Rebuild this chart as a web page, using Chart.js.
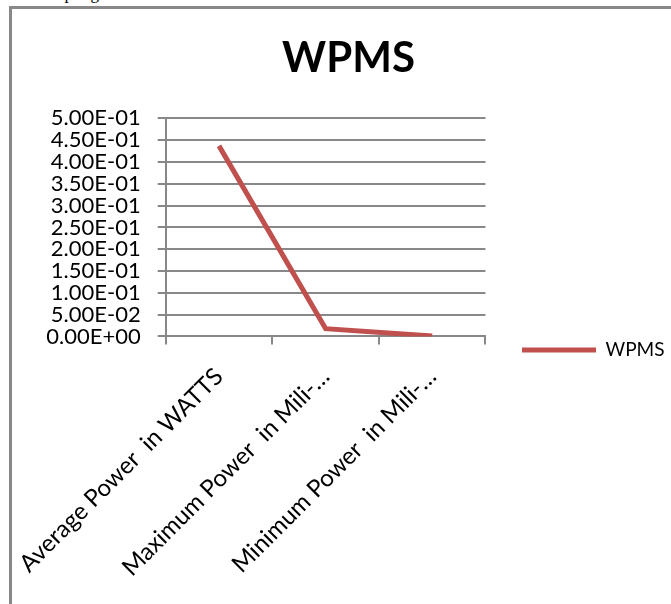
<!DOCTYPE html>
<html>
<head>
<meta charset="utf-8">
<script src="https://cdn.jsdelivr.net/npm/chart.js@4.4.1/dist/chart.umd.min.js"></script>
<style>
  html, body { margin: 0; padding: 0; background: #fff; overflow: hidden; }
  #note { position: absolute; left: 12px; top: -16px; font: 17px "Liberation Serif", serif; color: #000; }
  #frame { position: absolute; left: 9px; top: 6px; width: 700px; height: 640px;
           border-left: 3px solid #888; border-top: 3px solid #888; }
  #chart { position: absolute; left: -29px; top: 0; }
</style>
</head>
<body>
<div id="note">The output given as shown.</div>
<div id="frame"><canvas id="chart" width="688" height="600"></canvas></div>
<script>
// chart data
const categories = ['Average Power  in WATTS', 'Maximum Power  in Mili-…', 'Minimum Power  in Mili-…'];
const wpmsValues = [0.437, 0.018, 0.001];
const seriesName = 'WPMS';

// 5.00E-01 style labels
function sciLabel(v) {
    if (Math.abs(v) < 1e-12) return '0.00E+00';
    const parts = v.toExponential(2).split('e');
    const exp = parseInt(parts[1], 10);
    const sign = exp < 0 ? '-' : '+';
    return parts[0] + 'E' + sign + String(Math.abs(exp)).padStart(2, '0');
}

const fontFamily = 'Lato, "Open Sans", sans-serif';
const axisGrey = '#888888';

// put the legend and title where the original has them
const boxShift = {
    id: 'boxShift',
    afterLayout(chart) {
        const lg = chart.legend;
        const dx = 539 - (lg.left + 10);
        const dy = 341 - (lg.top + lg.bottom) / 2;
        lg.left += dx; lg.right += dx;
        lg.top += dy; lg.bottom += dy;

        const tb = chart.titleBlock;
        tb.left += 33; tb.right += 33;
    }
};

const ctx = document.getElementById('chart').getContext('2d');
new Chart(ctx, {
    type: 'line',
    data: {
        labels: categories,
        datasets: [{
            label: seriesName,
            data: wpmsValues,
            borderColor: '#C0504D',
            backgroundColor: '#C0504D',
            borderWidth: 5,
            pointRadius: 0,
            tension: 0
        }]
    },
    plugins: [boxShift],
    options: {
        responsive: false,
        animation: false,
        layout: { padding: { top: 24, right: 23, left: 0, bottom: 9 } },
        plugins: {
            title: {
                display: true,
                text: 'WPMS',
                color: '#000',
                font: { family: fontFamily, size: 42, weight: 'bold' },
                padding: { top: 0, bottom: 35 }
            },
            legend: {
                position: 'right',
                labels: {
                    color: '#000',
                    font: { family: fontFamily, size: 19 },
                    usePointStyle: true,
                    pointStyle: 'line',
                    pointStyleWidth: 74,
                    padding: 10
                }
            },
            tooltip: { enabled: false }
        },
        scales: {
            x: {
                type: 'category',
                offset: true,
                grid: { offset: true, drawOnChartArea: false, color: axisGrey, lineWidth: 2, tickLength: 8 },
                border: { color: axisGrey, width: 2 },
                ticks: {
                    color: '#000',
                    font: { family: fontFamily, size: 24 },
                    autoSkip: false,
                    minRotation: 45,
                    maxRotation: 45,
                    padding: 18
                }
            },
            y: {
                min: 0,
                max: 0.5,
                grid: { color: axisGrey, lineWidth: 2, tickLength: 8 },
                border: { color: axisGrey, width: 2 },
                ticks: {
                    stepSize: 0.05,
                    autoSkip: false,
                    color: '#000',
                    font: { family: fontFamily, size: 22 },
                    padding: 17,
                    callback: value => sciLabel(value)
                }
            }
        }
    }
});
</script>
</body>
</html>
